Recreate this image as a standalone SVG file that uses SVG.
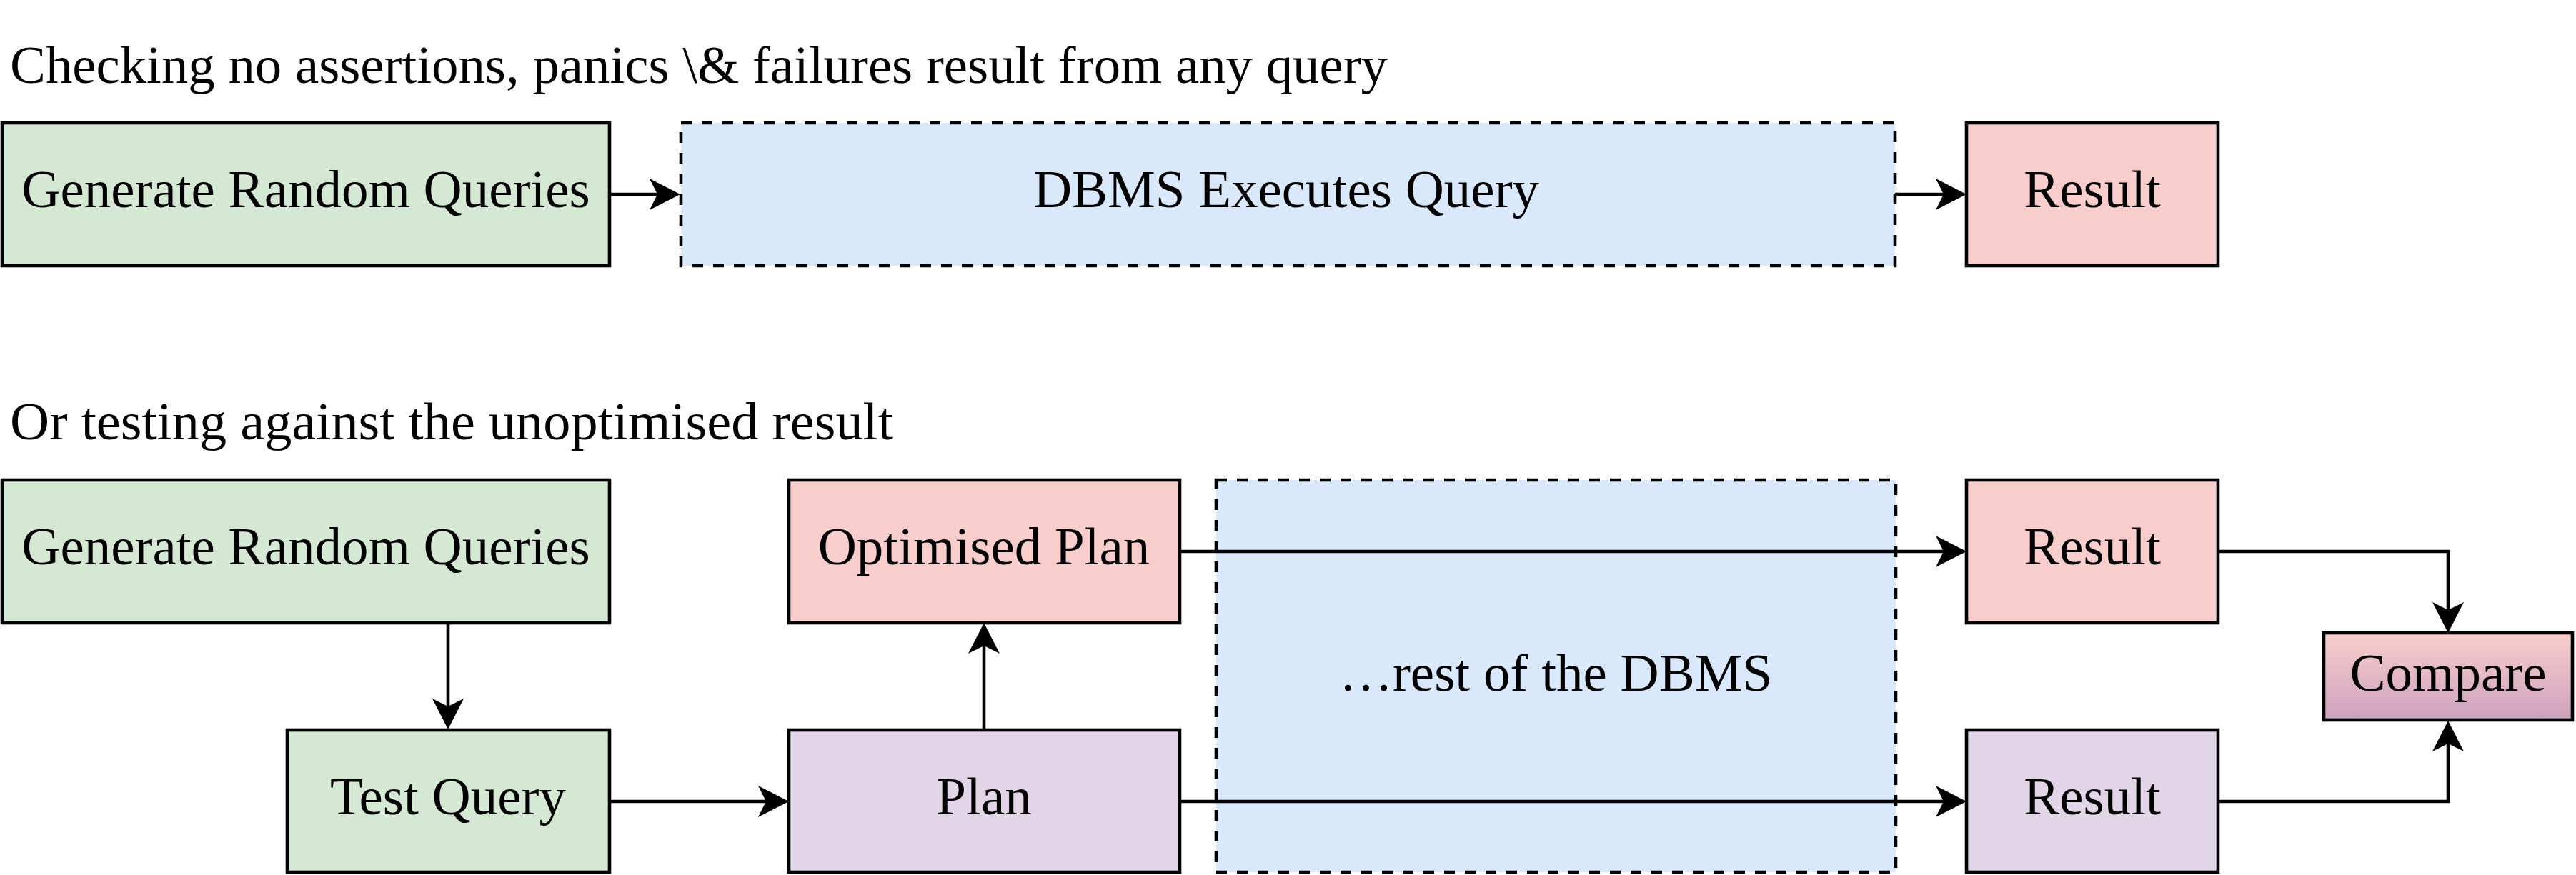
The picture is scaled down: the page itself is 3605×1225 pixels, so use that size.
<svg xmlns="http://www.w3.org/2000/svg" width="3605" height="1225" viewBox="0 0 3605 1225">
<style>
.box{stroke:#000;stroke-width:4.6}
.dash{stroke:#000;stroke-width:4.6;stroke-dasharray:15 14;fill:#dae8fc}
.green{fill:#d5e8d4}
.pink{fill:#f8cecc}
.purple{fill:#e1d5e7}
.lbl{font-family:"Liberation Serif","Times New Roman",serif;font-size:75px;fill:#000;text-anchor:middle}
.ttl{font-family:"Liberation Serif","Times New Roman",serif;font-size:75px;fill:#000}
.conn{fill:none;stroke:#000;stroke-width:4.6}
</style>
<defs>
<linearGradient id="cmpGrad" x1="0" y1="0" x2="0" y2="1">
<stop offset="0" stop-color="#f8cecc"/>
<stop offset="1" stop-color="#cda2be"/>
</linearGradient>
<marker id="arr" markerUnits="userSpaceOnUse" markerWidth="80" markerHeight="80" viewBox="-20 -40 80 80" refX="0" refY="0" orient="auto" overflow="visible">
<path d="M32,0 L-11,-22 L0,0 L-11,22 Z" fill="#000"/>
</marker>
</defs>
<rect width="3605" height="1225" fill="#fff"/>
<text class="ttl" x="14" y="116" textLength="1928" lengthAdjust="spacingAndGlyphs">Checking no assertions, panics \&amp; failures result from any query</text>
<text class="ttl" x="14" y="615" textLength="1236" lengthAdjust="spacingAndGlyphs">Or testing against the unoptimised result</text>

<g id="gen1"><rect class="box green" x="3" y="172" width="850" height="200"/><text class="lbl" x="428" y="290">Generate Random Queries</text></g>
<g id="exec"><rect class="dash" x="953" y="172" width="1699" height="200"/><text class="lbl" x="1800" y="290">DBMS Executes Query</text></g>
<g id="result1"><rect class="box pink" x="2752" y="172" width="352" height="200"/><text class="lbl" x="2928" y="290">Result</text></g>

<g id="gen2"><rect class="box green" x="3" y="672" width="850" height="200"/><text class="lbl" x="428" y="790">Generate Random Queries</text></g>
<g id="test"><rect class="box green" x="402" y="1022" width="451" height="199"/><text class="lbl" x="627" y="1140">Test Query</text></g>
<g id="opt"><rect class="box pink" x="1104" y="672" width="547" height="200"/><text class="lbl" x="1377" y="790">Optimised Plan</text></g>
<g id="plan"><rect class="box purple" x="1104" y="1022" width="547" height="199"/><text class="lbl" x="1377" y="1140">Plan</text></g>
<g id="rest"><rect class="dash" x="1702" y="672" width="951" height="549"/><text class="lbl" x="2177" y="967">…rest of the DBMS</text></g>
<g id="resultOpt"><rect class="box pink" x="2752" y="672" width="352" height="200"/><text class="lbl" x="2928" y="790">Result</text></g>
<g id="resultPlan"><rect class="box purple" x="2752" y="1022" width="352" height="199"/><text class="lbl" x="2928" y="1140">Result</text></g>
<g id="compare"><rect class="box" fill="url(#cmpGrad)" x="3252" y="886" width="348" height="122"/><text class="lbl" x="3426" y="967">Compare</text></g>

<g id="connectors">
<path class="conn" d="M853,272 L920,272" marker-end="url(#arr)"/>
<path class="conn" d="M2652,272 L2720,272" marker-end="url(#arr)"/>
<path class="conn" d="M627,872 L627,989" marker-end="url(#arr)"/>
<path class="conn" d="M853,1122 L1072,1122" marker-end="url(#arr)"/>
<path class="conn" d="M1377,1022 L1377,904" marker-end="url(#arr)"/>
<path class="conn" d="M1651,772 L2720,772" marker-end="url(#arr)"/>
<path class="conn" d="M1651,1122 L2720,1122" marker-end="url(#arr)"/>
<path class="conn" d="M3104,772 L3426,772 L3426,854" marker-end="url(#arr)"/>
<path class="conn" d="M3104,1122 L3426,1122 L3426,1041" marker-end="url(#arr)"/>
</g>
</svg>
